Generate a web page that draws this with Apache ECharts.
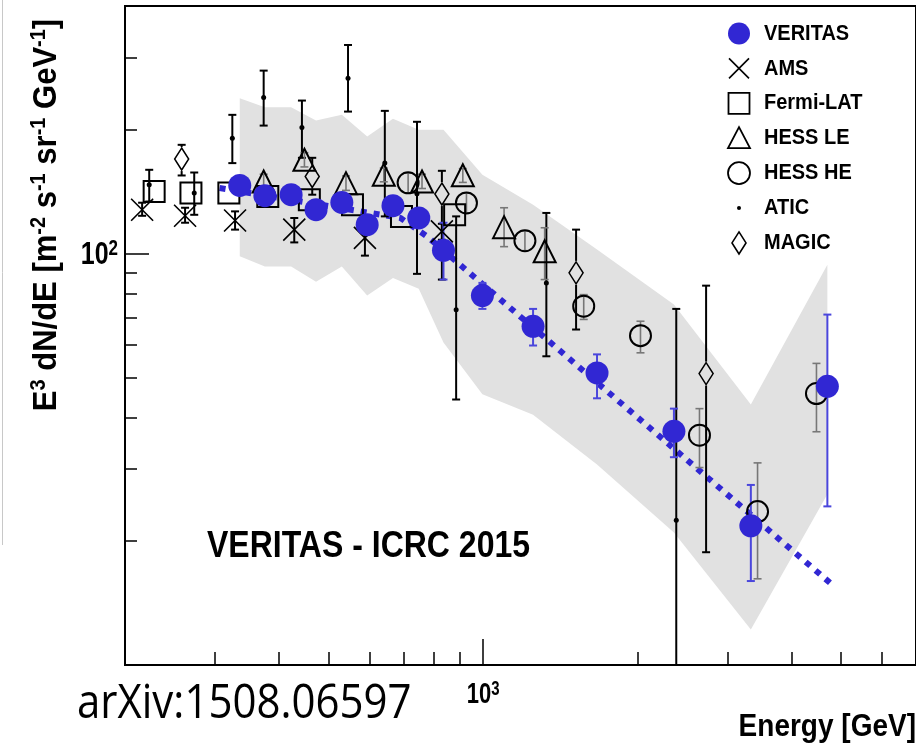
<!DOCTYPE html>
<html><head><meta charset="utf-8">
<script src="https://cdn.jsdelivr.net/npm/echarts@6/dist/echarts.min.js"></script>
<style>html,body{margin:0;padding:0;background:#fff}#c{width:916px;height:750px}</style>
</head><body><div id="c"></div>
<script>
// ---------------- data (E in GeV, E^3 dN/dE) ----------------
const veritasE  = [335, 375, 422, 472, 530, 594, 667, 749, 837, 997, 1252, 1669, 2358, 3332, 4700];
const veritasF  = [146.5, 138.3, 139.1, 127.9, 133.2, 117.6, 130.8, 122.1, 101.9, 79.1, 66.6, 51.3, 37.0, 21.8, 47.6];
const veritasLo = [142, 134, 135, 124, 129, 113, 126.5, 117.5, 86.5, 73.4, 59.8, 44.5, 32.0, 16.0, 24.3];
const veritasHi = [151, 142.5, 143.5, 132, 137.5, 122, 135, 127, 118.9, 84.9, 73.4, 56.9, 42.0, 27.4, 71.1];

const bandE  = [335, 375, 422, 472, 530, 594, 667, 749, 837, 997, 1252, 1669, 2358, 3332, 4700];
const bandHi = [238.8, 227.1, 227.1, 210.6, 217.5, 192.6, 212.7, 200, 200, 155.5, 131.5, 102.3, 75.2, 43.0, 94.0];
const bandLo = [98.5, 93.0, 93.0, 85.5, 93.0, 79.1, 87.3, 82.2, 60.8, 45.5, 40.6, 30.7, 21.0, 12.2, 26.0];

const fitE = [306, 690, 777, 4824];
const fitF = [144.4, 122.1, 110.2, 15.6];

const amsE  = [216, 262, 328, 428, 588, 831];
const amsF  = [127.9, 123.6, 120.4, 114.4, 109.2, 113.3];
const amsLo = [123.6, 118.9, 114.4, 106.5, 98.9, 108.1];
const amsHi = [133.0, 129.3, 126.7, 122.1, 117.6, 118.2];

const fermiE = [228, 269, 319, 380, 458, 556, 693, 880];
const fermiF = [141.6, 140.4, 140.4, 137.7, 135.2, 131.5, 123.2, 124.3];

const hessLeE  = [373, 448, 540, 640, 760, 913, 1099, 1319];
const hessLeF  = [149.8, 169.1, 148.4, 155.5, 149.8, 155.1, 116, 101.3];
const hessLeLo = [144, 162.5, 142.5, 149.5, 144, 149, 104, 86.5];
const hessLeHi = [156, 176, 154.5, 161.5, 156, 161, 129.3, 115.6];

const hessHeE  = [714, 928, 1207, 1572, 2029, 2645, 3434, 4475];
const hessHeF  = [148.7, 132.8, 107.5, 74.5, 63.2, 36.2, 23.6, 45.7];
const hessHeLo = [140.6, 125.7, 101.7, 69.2, 57.4, 30.2, 16.2, 36.9];
const hessHeHi = [157.2, 140.6, 113.7, 79.5, 68.5, 42.0, 31.0, 54.1];

const aticE  = [223, 273, 324, 373, 443, 545, 643, 743, 886, 1329, 2383];
const aticF  = [147.1, 140.4, 190.9, 239.6, 202.5, 267.0, 166.0, 139.9, 73.1, 84.9, 22.5];
const aticLo = [133.9, 124.3, 166.0, 204.8, 171.0, 221.5, 123.2, 89.3, 44.2, 56.3, 8];
const aticHi = [159.9, 157.5, 217.5, 278.6, 235.6, 321.6, 222.4, 209.2, 123.2, 125.6, 73.4];

const magicE  = [258, 464, 831, 1519, 2725];
const magicF  = [169.8, 154.0, 139.6, 89.8, 51.1];
const magicLo = [154.9, 139.1, 86.5, 65.4, 18.8];
const magicHi = [183.9, 171.0, 159.0, 114.4, 83.6];

const xMajorTicks = [1000];
const xMinorTicks = [300, 400, 500, 600, 700, 800, 900, 2000, 3000, 4000, 5000, 6000];
const yMajorTicks = [100];
const yMinorTicks = [20, 30, 40, 50, 60, 70, 80, 90, 200, 300];
const xTickLabels = [['10', '3']];
const yTickLabels = [['10', '2']];
const legendNames = ['VERITAS', 'AMS', 'Fermi-LAT', 'HESS LE', 'HESS HE', 'ATIC', 'MAGIC'];

// ---------------- helpers ----------------
const BLUE = '#3127d3';
const FONT = "'Liberation Sans', Arial, Helvetica, sans-serif";
const pairs = (a, b) => a.map((v, i) => [v, b[i]]);
const errRows = (e, lo, hi, f) => e.map((v, i) => [v, lo[i], hi[i], f[i]]);

function makeErr(color, cap, lw, gap) {
  return function (params, api) {
    const x = api.value(0), lo = api.value(1), hi = api.value(2), c = api.value(3);
    const pLo = api.coord([x, lo]), pHi = api.coord([x, hi]), pC = api.coord([x, c]);
    const px = pLo[0];
    const st = { stroke: color, lineWidth: lw };
    const ch = [];
    if (gap > 0) {
      if (pC[1] - gap > pHi[1]) ch.push({ type: 'line', shape: { x1: px, y1: pHi[1], x2: px, y2: pC[1] - gap }, style: st });
      if (pC[1] + gap < pLo[1]) ch.push({ type: 'line', shape: { x1: px, y1: pC[1] + gap, x2: px, y2: pLo[1] }, style: st });
    } else {
      ch.push({ type: 'line', shape: { x1: px, y1: pHi[1], x2: px, y2: pLo[1] }, style: st });
    }
    ch.push({ type: 'line', shape: { x1: px - cap, y1: pHi[1], x2: px + cap, y2: pHi[1] }, style: st });
    ch.push({ type: 'line', shape: { x1: px - cap, y1: pLo[1], x2: px + cap, y2: pLo[1] }, style: st });
    return { type: 'group', children: ch };
  };
}
function errSeries(rows, color, cap, lw, gap, z) {
  return { type: 'custom', clip: true, z: z, data: rows, encode: { x: 0, y: 1 },
           renderItem: makeErr(color, cap, lw, gap), silent: true };
}

const hollow = { color: 'rgba(0,0,0,0)', borderColor: '#000', borderWidth: 2, opacity: 1 };

const chart = echarts.init(document.getElementById('c'), null, { renderer: 'canvas' });

const axisLineStyle = { color: '#000', width: 2 };
const option = {
  animation: false,
  backgroundColor: '#fff',
  grid: { left: 125, right: -4, top: 6, bottom: 85, show: true, borderColor: '#000', borderWidth: 2, backgroundColor: 'rgba(0,0,0,0)' },
  xAxis: [
    { type: 'log', logBase: 10, min: 200, max: 7000, position: 'bottom',
      axisLine: { show: true, lineStyle: axisLineStyle },
      axisTick: { show: true, inside: true, length: 26, customValues: xMajorTicks, lineStyle: { color: '#000', width: 1.5 } },
      axisLabel: { show: false }, splitLine: { show: false }, minorTick: { show: false } },
    { type: 'log', logBase: 10, min: 200, max: 7000, position: 'bottom',
      axisLine: { show: false },
      axisTick: { show: true, inside: true, length: 13, customValues: xMinorTicks, lineStyle: { color: '#000', width: 1.5 } },
      axisLabel: { show: false }, splitLine: { show: false } }
  ],
  yAxis: [
    { type: 'log', logBase: 10, min: 10, max: 400, position: 'left',
      axisLine: { show: true, lineStyle: axisLineStyle },
      axisTick: { show: true, inside: true, length: 24, customValues: yMajorTicks, lineStyle: { color: '#000', width: 1.5 } },
      axisLabel: { show: false }, splitLine: { show: false } },
    { type: 'log', logBase: 10, min: 10, max: 400, position: 'left',
      axisLine: { show: false },
      axisTick: { show: true, inside: true, length: 12, customValues: yMinorTicks, lineStyle: { color: '#000', width: 1.5 } },
      axisLabel: { show: false }, splitLine: { show: false } }
  ],
  series: [
    { // systematic band
      type: 'custom', z: 1, silent: true,
      data: bandE.map((e, i) => [e, bandLo[i], bandHi[i]]), encode: { x: 0, y: 1 },
      renderItem: function (params, api) {
        if (params.dataIndex !== 0) return null;
        const pts = [];
        for (let i = 0; i < bandE.length; i++) pts.push(api.coord([bandE[i], bandHi[i]]));
        for (let i = bandE.length - 1; i >= 0; i--) pts.push(api.coord([bandE[i], bandLo[i]]));
        return { type: 'polygon', shape: { points: pts }, style: { fill: '#e1e1e1' } };
      } },
    { // fit
      type: 'line', z: 3, data: pairs(fitE, fitF), symbol: 'none', silent: true,
      lineStyle: { color: BLUE, width: 6, type: [6, 7], cap: 'butt', opacity: 1 } },
    errSeries(errRows(aticE, aticLo, aticHi, aticF), '#000', 4, 2, 0, 4),
    errSeries(errRows(amsE, amsLo, amsHi, amsF), '#000', 4, 2, 0, 4),
    errSeries(errRows(magicE, magicLo, magicHi, magicF), '#000', 4, 2, 12, 4),
    errSeries(errRows(hessLeE, hessLeLo, hessLeHi, hessLeF), '#777', 4, 1.6, 0, 4),
    errSeries(errRows(hessHeE, hessHeLo, hessHeHi, hessHeF), '#777', 4, 1.6, 0, 4),
    errSeries(errRows(veritasE, veritasLo, veritasHi, veritasF), '#4a46dc', 4, 2, 0, 5),
    { name: 'ATIC', type: 'scatter', z: 6, data: pairs(aticE, aticF), symbol: 'circle', symbolSize: 5, itemStyle: { color: '#000', opacity: 1 } },
    { name: 'AMS', type: 'scatter', z: 6, data: pairs(amsE, amsF), symbol: 'path://M0,0L10,10M10,0L0,10', symbolSize: [22, 22],
      itemStyle: { color: 'rgba(0,0,0,0)', borderColor: '#000', borderWidth: 1.6, opacity: 1 } },
    { name: 'Fermi-LAT', type: 'scatter', z: 6, data: pairs(fermiE, fermiF), symbol: 'rect', symbolSize: [21, 21], itemStyle: hollow },
    { name: 'HESS LE', type: 'scatter', z: 6, data: pairs(hessLeE, hessLeF), symbol: 'triangle', symbolSize: [22, 22], itemStyle: hollow },
    { name: 'HESS HE', type: 'scatter', z: 6, data: pairs(hessHeE, hessHeF), symbol: 'circle', symbolSize: 21, itemStyle: hollow },
    { name: 'MAGIC', type: 'scatter', z: 6, data: pairs(magicE, magicF), symbol: 'diamond', symbolSize: [14, 22], itemStyle: { color: 'rgba(0,0,0,0)', borderColor: '#000', borderWidth: 1.6, opacity: 1 } },
    { name: 'VERITAS', type: 'scatter', z: 7, data: pairs(veritasE, veritasF), symbol: 'circle', symbolSize: 23, itemStyle: { color: BLUE, opacity: 1 } }
  ],
  graphic: []
};

// legend (drawn as graphic symbols + real text)
const lgX = 739, lgTx = 764, lgY0 = 33.5, lgDy = 34.9;
const G = option.graphic;
const rowY = i => lgY0 + i * lgDy;
G.push({ type: 'circle', shape: { cx: lgX, cy: rowY(0), r: 11 }, style: { fill: BLUE } });
G.push({ type: 'line', shape: { x1: lgX - 10, y1: rowY(1) - 10, x2: lgX + 10, y2: rowY(1) + 10 }, style: { stroke: '#000', lineWidth: 1.6 } });
G.push({ type: 'line', shape: { x1: lgX + 10, y1: rowY(1) - 10, x2: lgX - 10, y2: rowY(1) + 10 }, style: { stroke: '#000', lineWidth: 1.6 } });
G.push({ type: 'rect', shape: { x: lgX - 10.5, y: rowY(2) - 10.5, width: 21, height: 21 }, style: { fill: 'none', stroke: '#000', lineWidth: 1.8 } });
G.push({ type: 'polygon', shape: { points: [[lgX, rowY(3) - 11], [lgX + 11, rowY(3) + 10], [lgX - 11, rowY(3) + 10]] }, style: { fill: 'none', stroke: '#000', lineWidth: 1.8 } });
G.push({ type: 'circle', shape: { cx: lgX, cy: rowY(4), r: 11 }, style: { fill: 'none', stroke: '#000', lineWidth: 1.8 } });
G.push({ type: 'circle', shape: { cx: lgX, cy: rowY(5), r: 2 }, style: { fill: '#000' } });
G.push({ type: 'polygon', shape: { points: [[lgX, rowY(6) - 11], [lgX + 7, rowY(6)], [lgX, rowY(6) + 11], [lgX - 7, rowY(6)]] }, style: { fill: 'none', stroke: '#000', lineWidth: 1.6 } });
legendNames.forEach((n, i) => {
  G.push({ type: 'text', x: lgTx, y: rowY(i), scaleY: 1.12, style: { text: n, fill: '#000', font: "bold 20px " + FONT, verticalAlign: 'middle', align: 'left' } });
});

// titles & annotations
G.push({ type: 'text', x: 47, y: 215, rotation: Math.PI / 2, scaleY: 1.1,
  style: { text: '{b|E}{s|3}{b| dN/dE [m}{s|-2}{b| s}{s|-1}{b| sr}{s|-1}{b| GeV}{s|-1}{b|]}',
    align: 'center', verticalAlign: 'middle',
    rich: { b: { fontSize: 31, fontWeight: 'bold', fontFamily: FONT, fill: '#000', lineHeight: 34 },
            s: { fontSize: 20, fontWeight: 'bold', fontFamily: FONT, fill: '#000', verticalAlign: 'top', lineHeight: 20 } } } });
G.push({ type: 'text', x: 916, y: 727, scaleY: 1.12, style: { text: 'Energy [GeV]', fill: '#000', font: "bold 28px " + FONT, align: 'right', verticalAlign: 'middle' } });
G.push({ type: 'text', x: 207, y: 547, scaleY: 1.15, style: { text: 'VERITAS - ICRC 2015', fill: '#000', font: "bold 32px " + FONT, align: 'left', verticalAlign: 'middle' } });
G.push({ type: 'text', x: 77, y: 705, scaleY: 1.12, style: { text: 'arXiv:1508.06597', fill: '#000', font: "42px 'Open Sans', 'Noto Sans', sans-serif", align: 'left', verticalAlign: 'middle' } });
G.push({ type: 'line', shape: { x1: 2.5, y1: 0, x2: 2.5, y2: 545 }, style: { stroke: '#c8c8c8', lineWidth: 1 } });

chart.setOption(option);

// tick labels (10^n with superscript) positioned through the axes' own scales
const tickRich = (big, small) => ({
  b: { fontSize: big, fontWeight: 'bold', fontFamily: FONT, fill: '#000', lineHeight: big + 2 },
  s: { fontSize: small, fontWeight: 'bold', fontFamily: FONT, fill: '#000', verticalAlign: 'top', lineHeight: small }
});
const xAxisY = chart.convertToPixel({ yAxisIndex: 0 }, 10);
xMajorTicks.forEach((v, i) => {
  const px = chart.convertToPixel({ xAxisIndex: 0 }, v);
  G.push({ type: 'text', x: px, y: xAxisY + 15, scaleY: 1.3,
    style: { text: '{b|' + xTickLabels[i][0] + '}{s|' + xTickLabels[i][1] + '}', align: 'center', verticalAlign: 'top', rich: tickRich(22, 15) } });
});
const yAxisX = chart.convertToPixel({ xAxisIndex: 0 }, 200);
yMajorTicks.forEach((v, i) => {
  const py = chart.convertToPixel({ yAxisIndex: 0 }, v);
  G.push({ type: 'text', x: yAxisX - 7, y: py + 2, scaleY: 1.25,
    style: { text: '{b|' + yTickLabels[i][0] + '}{s|' + yTickLabels[i][1] + '}', align: 'right', verticalAlign: 'middle', rich: tickRich(25, 17) } });
});
chart.setOption({ graphic: G });
</script></body></html>
